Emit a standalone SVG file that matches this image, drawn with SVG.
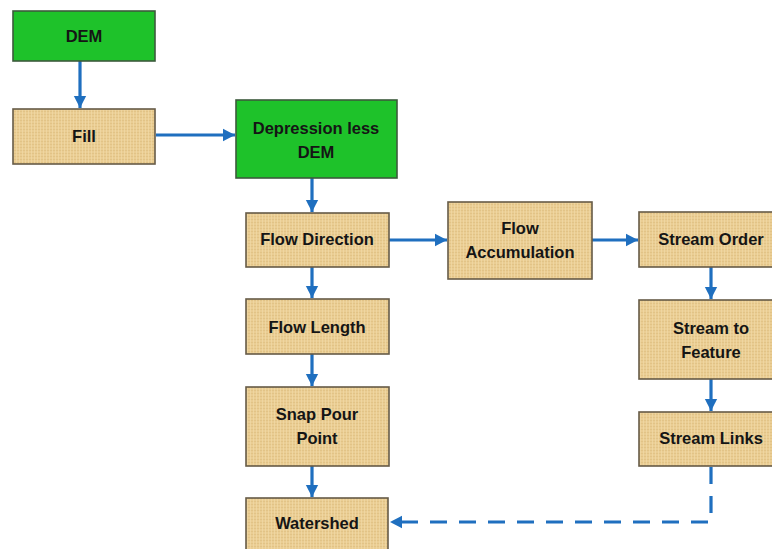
<svg xmlns="http://www.w3.org/2000/svg" width="772" height="549" viewBox="0 0 772 549">
<defs>
<pattern id="papyrus" width="6" height="6" patternUnits="userSpaceOnUse">
<rect width="6" height="6" fill="#EACD93"/>
<path d="M0 0.5H6M0 3.5H6" stroke="#DFC083" stroke-width="0.8"/>
<path d="M1.5 0V6M4.5 0V6" stroke="#F1DAA8" stroke-width="0.7"/>
</pattern>
<marker id="ah" markerWidth="4.5" markerHeight="4.5" refX="3.8" refY="2.25" orient="auto" markerUnits="strokeWidth">
<path d="M0 0.3L3.8 2.25L0 4.2Z" fill="#1F6FBF"/>
</marker>
</defs>
<style>
.tan{fill:url(#papyrus);stroke:#665B47;stroke-width:1.6}
.grn{fill:#1EC22A;stroke:#3C5A3C;stroke-width:1.6}
.lbl{font-family:"Liberation Sans",Arial,sans-serif;font-weight:bold;font-size:16.5px;fill:#151515;text-anchor:middle}
.con{stroke:#1F6FBF;stroke-width:3.2;fill:none;marker-end:url(#ah)}
.dash{stroke-dasharray:17 12}
</style>
<rect width="772" height="549" fill="#FFFFFF"/>
<g id="connectors">
<path class="con" d="M80 61V108"/>
<path class="con" d="M156 135H235"/>
<path class="con" d="M312 178V212"/>
<path class="con" d="M389 240H447"/>
<path class="con" d="M592 240H638"/>
<path class="con" d="M312 267V298"/>
<path class="con" d="M312 354V386"/>
<path class="con" d="M312 466V497"/>
<path class="con" d="M711 267V299"/>
<path class="con" d="M711 379V411"/>
<path class="con dash" d="M711 467V522H390"/>
</g>
<g id="dem"><rect class="grn" x="13" y="11" width="142" height="50"/><text class="lbl" x="84" y="42">DEM</text></g>
<g id="fill"><rect class="tan" x="13" y="109" width="142" height="55"/><text class="lbl" x="84" y="142">Fill</text></g>
<g id="depressionless"><rect class="grn" x="236" y="100" width="161" height="78"/><text class="lbl" x="316" y="134">Depression less</text><text class="lbl" x="316" y="158">DEM</text></g>
<g id="flowdirection"><rect class="tan" x="246" y="213" width="143" height="54"/><text class="lbl" x="317" y="245">Flow Direction</text></g>
<g id="flowaccumulation"><rect class="tan" x="448" y="202" width="144" height="77"/><text class="lbl" x="520" y="234">Flow</text><text class="lbl" x="520" y="258">Accumulation</text></g>
<g id="streamorder"><rect class="tan" x="639" y="212" width="146" height="55"/><text class="lbl" x="711" y="245">Stream Order</text></g>
<g id="flowlength"><rect class="tan" x="246" y="299" width="143" height="55"/><text class="lbl" x="317" y="333">Flow Length</text></g>
<g id="streamtofeature"><rect class="tan" x="639" y="300" width="146" height="79"/><text class="lbl" x="711" y="334">Stream to</text><text class="lbl" x="711" y="358">Feature</text></g>
<g id="snappourpoint"><rect class="tan" x="246" y="387" width="143" height="79"/><text class="lbl" x="317" y="420">Snap Pour</text><text class="lbl" x="317" y="444">Point</text></g>
<g id="streamlinks"><rect class="tan" x="639" y="412" width="146" height="54"/><text class="lbl" x="711" y="444">Stream Links</text></g>
<g id="watershed"><rect class="tan" x="246" y="498" width="142" height="58"/><text class="lbl" x="317" y="529">Watershed</text></g>
</svg>
